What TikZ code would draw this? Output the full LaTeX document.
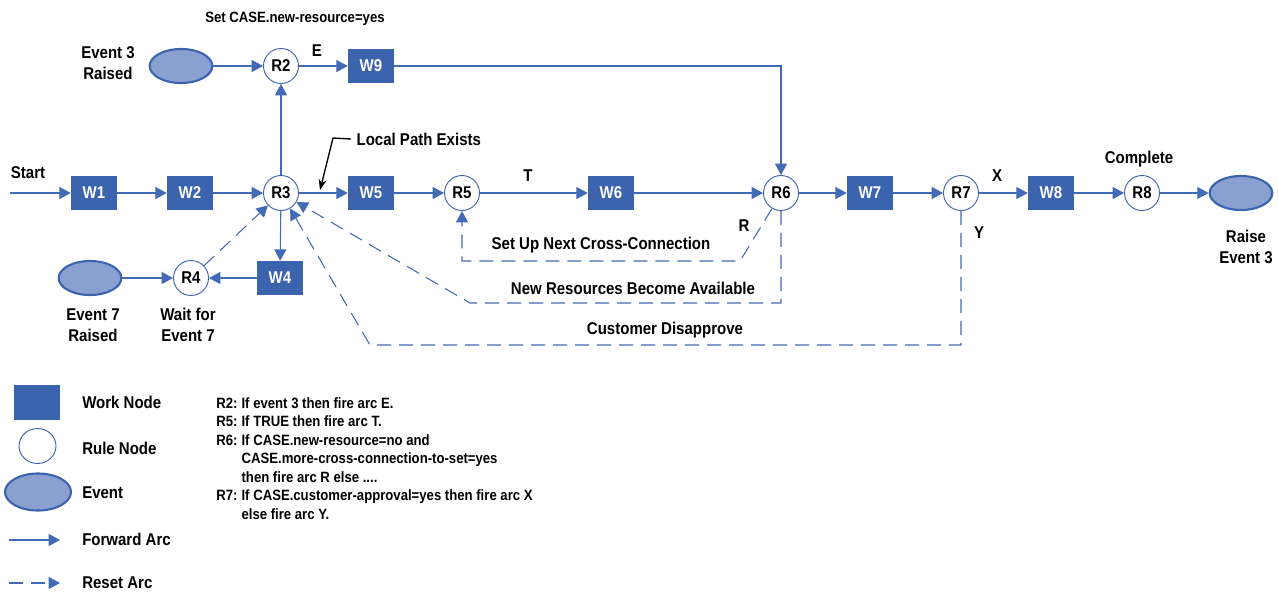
\documentclass[tikz,border=0pt]{standalone}
\usepackage{fontspec}
\setmainfont{Liberation Sans}[FakeStretch=0.88]
\usetikzlibrary{arrows.meta,shapes.geometric}
\definecolor{wblue}{RGB}{60,100,174}
\definecolor{efill}{RGB}{138,160,208}
\definecolor{arcblue}{RGB}{66,106,182}
\begin{document}
\begin{tikzpicture}[x=0.75pt,y=-0.75pt,
  font=\fontsize{12.8}{15.75}\selectfont\bfseries,
  work/.style={fill=wblue,draw=none,minimum width=34.5pt,minimum height=25.5pt,inner sep=0pt,text=white},
  rule/.style={circle,draw=wblue,line width=0.7pt,fill=white,minimum size=26.25pt,inner sep=0pt},
  event/.style={ellipse,draw=wblue,line width=1.6pt,fill=efill,minimum width=47pt,minimum height=25.5pt},
  fwd/.style={draw=arcblue,line width=0.8pt,-{Triangle[length=8.5pt,width=9pt]}},
  reset/.style={fwd,dash pattern=on 10.5pt off 6pt},
  lbl/.style={align=center,inner sep=0pt},
  small/.style={font=\fontsize{11.2}{14}\selectfont\bfseries},
  legtext/.style={anchor=west,inner sep=0pt}]
\useasboundingbox (0,0) rectangle (1278,593);

% work, rule and event nodes
\node[work] (W1) at (94,193) {W1};
\node[work] (W2) at (190,193) {W2};
\node[rule] (R3) at (281,193) {R3};
\node[rule] (R2) at (281,66) {R2};
\node[work] (W9) at (371,66) {W9};
\node[event] (E3) at (181,66) {};
\node[work] (W5) at (371,193) {W5};
\node[rule] (R5) at (462,193) {R5};
\node[work] (W6) at (611,193) {W6};
\node[rule] (R6) at (781,193) {R6};
\node[work] (W7) at (870,193) {W7};
\node[rule] (R7) at (961,193) {R7};
\node[work] (W8) at (1051,193) {W8};
\node[rule] (R8) at (1142,193) {R8};
\node[event] (E3out) at (1241,193) {};
\node[rule] (R4) at (191,278) {R4};
\node[work] (W4) at (280,278) {W4};
\node[event] (E7) at (90,278) {};

% forward arcs
\coordinate (start) at (10,193);
\draw[fwd] (start) -- (W1);
\draw[fwd] (W1) -- (W2);
\draw[fwd] (W2) -- (R3);
\draw[fwd] (R3) -- (W5);
\draw[fwd] (W5) -- (R5);
\draw[fwd] (R5) -- (W6);
\draw[fwd] (W6) -- (R6);
\draw[fwd] (R6) -- (W7);
\draw[fwd] (W7) -- (R7);
\draw[fwd] (R7) -- (W8);
\draw[fwd] (W8) -- (R8);
\draw[fwd] (R8) -- (E3out);
\draw[fwd] (E3) -- (R2);
\draw[fwd] (R2) -- (W9);
\draw[fwd] (W9) -| (R6);
\draw[fwd] (R3) -- (R2);
\draw[fwd] (R3) -- (W4);
\draw[fwd] (W4) -- (R4);
\draw[fwd] (E7) -- (R4);

% reset arcs
\coordinate (rbend) at (740,261);
\coordinate (nr1) at (781,303);
\coordinate (nr2) at (470,303);
\coordinate (cd1) at (961,345);
\coordinate (cd2) at (370,345);
\draw[reset] (R4) -- (R3);
\draw[reset] (R6.240) -- (rbend) -| (R5);
\draw[reset] (R6.south) -- (nr1) -- (nr2) -- (R3);
\draw[reset] (R7.south) -- (cd1) -- (cd2) -- (R3);

% labels
\node[small] (setcase) at (295,19) {Set CASE.new-resource=yes};
\node[lbl] (lE) at (317,51) {E};
\node[lbl] (lT) at (528,176) {T};
\node[lbl] (lR) at (744,226) {R};
\node[lbl] (lX) at (997,176) {X};
\node[lbl] (lY) at (979,233) {Y};
\node[lbl] (lcomp) at (1139,159) {Complete};
\node[lbl] (lraise) at (1246,247) {Raise\\Event 3};
\node[lbl] (le3) at (108,63) {Event 3\\Raised};
\node[lbl] (le7) at (93,325) {Event 7\\Raised};
\node[lbl] (lwait) at (188,325) {Wait for\\Event 7};
\node[lbl] (lstart) at (28,173) {Start};
\node[lbl] (lsetup) at (601,245) {Set Up Next Cross-Connection};
\node[lbl] (lnew) at (633,288) {New Resources Become Available};
\node[lbl] (lcust) at (665,330) {Customer Disapprove};
\node[anchor=west,inner sep=4pt] (lp) at (351,139) {Local Path Exists};
\coordinate (lpbend) at (333,138);
\coordinate (lptip) at (320,190);
\draw[black,line width=1pt,-{Stealth[length=8pt,width=6pt]}] (lp.west) -- (lpbend) -- (lptip);

% legend
\node[work,minimum width=34.5pt,minimum height=26.25pt] (LW) at (37,402) {};
\node[ellipse,draw=wblue,line width=0.7pt,fill=white,minimum width=27.75pt,minimum height=26.25pt,inner sep=0pt] (LR) at (37.5,446) {};
\node[event,minimum width=49.5pt,minimum height=27.75pt] (LE) at (38,492) {};
\coordinate (fa1) at (9,540);
\coordinate (fa2) at (60,540);
\draw[fwd] (fa1) -- (fa2);
\coordinate (ra1) at (9,583);
\coordinate (ra2) at (60,583);
\draw[reset] (ra1) -- (ra2);
\node[legtext] (tW) at (82,402) {Work Node};
\node[legtext] (tR) at (82,448) {Rule Node};
\node[legtext] (tE) at (82,493) {Event};
\node[legtext] (tF) at (82,539) {Forward Arc};
\node[legtext] (tRs) at (82,583) {Reset Arc};

% rule definitions
\node[anchor=north west,inner sep=0pt,font=\fontsize{11.2}{13.9}\selectfont\bfseries] (rules) at (216,395) {%
\begin{tabular}{@{}p{19pt}@{}l@{}}
R2: & If event 3 then fire arc E.\\
R5: & If TRUE then fire arc T.\\
R6: & If CASE.new-resource=no and\\
    & CASE.more-cross-connection-to-set=yes\\
    & then fire arc R else ....\\
R7: & If CASE.customer-approval=yes then fire arc X\\
    & else fire arc Y.
\end{tabular}};
\end{tikzpicture}
\end{document}
